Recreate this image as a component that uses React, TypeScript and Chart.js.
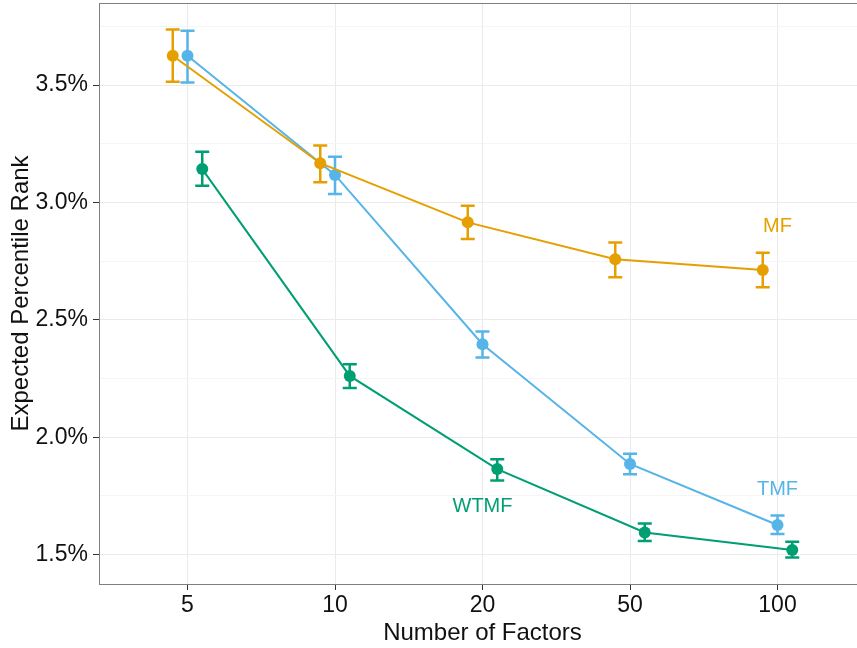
import React, { useEffect, useRef } from "react";
import { Chart, registerables } from "chart.js";

Chart.register(...registerables);

// ---- data ----
const factorLabels = ["5", "10", "20", "50", "100"];
const seriesNames = ["MF", "TMF", "WTMF"];

const mfMean = [3.625, 3.167, 2.915, 2.758, 2.712];
const mfLow = [3.514, 3.086, 2.844, 2.681, 2.639];
const mfHigh = [3.737, 3.242, 2.986, 2.829, 2.786];

const tmfMean = [3.625, 3.117, 2.396, 1.886, 1.626];
const tmfLow = [3.511, 3.036, 2.339, 1.842, 1.588];
const tmfHigh = [3.731, 3.195, 2.45, 1.929, 1.666];

const wtmfMean = [3.142, 2.261, 1.864, 1.594, 1.519];
const wtmfLow = [3.071, 2.209, 1.815, 1.558, 1.487];
const wtmfHigh = [3.216, 2.311, 1.906, 1.632, 1.555];

const yMajorTicks = [1.5, 2.0, 2.5, 3.0, 3.5];
const yMinorTicks = [1.75, 2.25, 2.75, 3.25, 3.75];

const labelText = ["MF", "TMF", "WTMF"];
const labelCategory = [5, 5, 3];
const labelValue = [2.898, 1.776, 1.705];

// ---- styles ----
const colors = ["#E69F00", "#56B4E9", "#009E73"];
const dodge = [-0.1, 0, 0.1];
const FONT = "'Liberation Sans', Arial, Helvetica, sans-serif";

const means = [mfMean, tmfMean, wtmfMean];
const lows = [mfLow, tmfLow, wtmfLow];
const highs = [mfHigh, tmfHigh, wtmfHigh];

const allLow = Math.min(...lows.flat());
const allHigh = Math.max(...highs.flat());
const yRange = allHigh - allLow;
const yMin = allLow - 0.05 * yRange;
const yMax = allHigh + 0.05 * yRange;

const errorBarPlugin = {
  id: "errorBars",
  beforeDatasetsDraw(chart: any) {
    const ctx = chart.ctx;
    const xs = chart.scales.x;
    const ys = chart.scales.y;
    chart.data.datasets.forEach((ds: any) => {
      ctx.save();
      ctx.strokeStyle = ds.borderColor;
      ctx.lineWidth = 2.5;
      ds.data.forEach((pt: any, j: number) => {
        const x = xs.getPixelForValue(pt.x);
        const yl = ys.getPixelForValue(ds.errLow[j]);
        const yh = ys.getPixelForValue(ds.errHigh[j]);
        const hw = 7;
        ctx.beginPath();
        ctx.moveTo(x, yl);
        ctx.lineTo(x, yh);
        ctx.moveTo(x - hw, yl);
        ctx.lineTo(x + hw, yl);
        ctx.moveTo(x - hw, yh);
        ctx.lineTo(x + hw, yh);
        ctx.stroke();
      });
      ctx.restore();
    });
  },
};

const labelPlugin = {
  id: "seriesLabels",
  afterDatasetsDraw(chart: any) {
    const ctx = chart.ctx;
    const xs = chart.scales.x;
    const ys = chart.scales.y;
    ctx.save();
    ctx.font = `20px ${FONT}`;
    ctx.textAlign = "center";
    ctx.textBaseline = "middle";
    labelText.forEach((t, i) => {
      ctx.fillStyle = colors[i];
      ctx.fillText(t, xs.getPixelForValue(labelCategory[i]), ys.getPixelForValue(labelValue[i]));
    });
    ctx.restore();
  },
};

const borderPlugin = {
  id: "panelBorder",
  afterDatasetsDraw(chart: any) {
    const { ctx, chartArea } = chart;
    ctx.save();
    ctx.strokeStyle = "#7f7f7f";
    ctx.lineWidth = 1;
    ctx.strokeRect(
      chartArea.left + 0.5,
      chartArea.top + 0.5,
      chartArea.right - chartArea.left,
      chartArea.bottom - chartArea.top
    );
    ctx.restore();
  },
};

export default function App() {
  const ref = useRef<HTMLCanvasElement>(null);

  useEffect(() => {
    if (!ref.current) return;
    const datasets = seriesNames.map((name, i) => ({
      label: name,
      data: means[i].map((v, j) => ({ x: j + 1 + dodge[i], y: v })),
      errLow: lows[i],
      errHigh: highs[i],
      borderColor: colors[i],
      backgroundColor: colors[i],
      pointBackgroundColor: colors[i],
      pointBorderColor: colors[i],
      pointBorderWidth: 0,
      pointRadius: 6,
      borderWidth: 2,
      tension: 0,
      clip: false,
    }));

    const chart = new Chart(ref.current, {
      type: "line",
      data: { datasets } as any,
      plugins: [errorBarPlugin, labelPlugin, borderPlugin],
      options: {
        responsive: false,
        animation: false,
        devicePixelRatio: 1,
        layout: { autoPadding: false, padding: { left: 0, top: 3, right: 1, bottom: 0 } },
        plugins: {
          legend: { display: false },
          tooltip: { enabled: false },
        },
        scales: {
          x: {
            type: "linear",
            min: 0.4,
            max: factorLabels.length + 0.6,
            afterBuildTicks: (scale: any) => {
              scale.ticks = factorLabels.map((_, i) => ({ value: i + 1 }));
            },
            afterFit: (scale: any) => {
              scale.height = 64;
              scale.paddingLeft = 0;
              scale.paddingRight = 0;
            },
            border: { display: false },
            grid: {
              color: "#ebebeb",
              lineWidth: 1,
              drawTicks: true,
              tickLength: 6,
              tickColor: "#333333",
            },
            ticks: {
              padding: 2,
              color: "#111111",
              font: { family: FONT, size: 23 },
              maxRotation: 0,
              callback: (v: any) => factorLabels[Math.round(Number(v)) - 1] ?? "",
            },
            title: {
              display: true,
              text: "Number of Factors",
              color: "#111111",
              font: { family: FONT, size: 24 },
              padding: { top: 0, bottom: 0 },
            },
          },
          y: {
            type: "linear",
            min: yMin,
            max: yMax,
            afterBuildTicks: (scale: any) => {
              scale.ticks = [...yMajorTicks, ...yMinorTicks]
                .sort((a, b) => a - b)
                .map((v) => ({ value: v }));
            },
            afterFit: (scale: any) => {
              scale.width = 99;
              scale.paddingTop = 0;
              scale.paddingBottom = 0;
            },
            border: { display: false },
            grid: {
              color: (c: any) =>
                yMajorTicks.includes(c.tick?.value) ? "#ebebeb" : "#f5f5f5",
              lineWidth: 1,
              drawTicks: true,
              tickLength: 6,
              tickColor: (c: any) =>
                yMajorTicks.includes(c.tick?.value) ? "#333333" : "rgba(0,0,0,0)",
            },
            ticks: {
              padding: 5,
              color: "#111111",
              font: { family: FONT, size: 23 },
              callback: (v: any) =>
                yMajorTicks.includes(Number(v)) ? `${Number(v).toFixed(1)}%` : "",
            },
            title: {
              display: true,
              text: "Expected Percentile Rank",
              color: "#111111",
              font: { family: FONT, size: 24 },
              padding: { top: 7, bottom: 0 },
            },
          },
        },
      } as any,
    });
    return () => chart.destroy();
  }, []);

  return (
    <div
      style={{
        position: "fixed",
        left: 0,
        top: 0,
        width: 857,
        height: 648,
        overflow: "hidden",
        background: "#ffffff",
      }}
    >
      <canvas ref={ref} width={867} height={648} style={{ display: "block" }} />
    </div>
  );
}
